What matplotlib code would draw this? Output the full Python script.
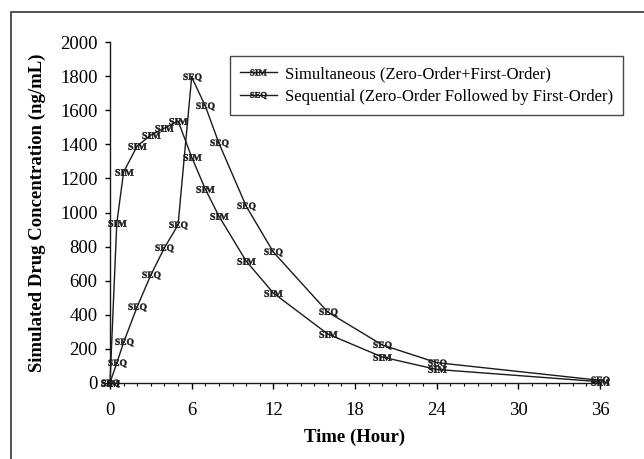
import numpy as np
import matplotlib
matplotlib.use('Agg')
import matplotlib.pyplot as plt
from matplotlib.patches import Rectangle

plt.rcParams['font.family'] = 'Liberation Serif'
plt.rcParams['mathtext.fontset'] = 'custom'
plt.rcParams['mathtext.rm'] = 'Liberation Serif'
plt.rcParams['mathtext.bf'] = 'Liberation Serif:bold'

# Simulated concentration profiles
time_sim = [0, 0.5, 1, 2, 3, 4, 5, 6, 7, 8, 10, 12, 16, 20, 24, 36]
conc_sim = [0, 938, 1238, 1391, 1455, 1496, 1538, 1326, 1138, 979, 715, 527, 286, 151, 78, 6]

time_seq = [0, 0.5, 1, 2, 3, 4, 5, 6, 7, 8, 10, 12, 16, 20, 24, 36]
conc_seq = [0, 116, 237, 447, 633, 793, 927, 1796, 1626, 1408, 1038, 768, 415, 222, 118, 14]

label_sim = 'Simultaneous (Zero-Order+First-Order)'
label_seq = 'Sequential (Zero-Order Followed by First-Order)'

x_ticks = [0, 6, 12, 18, 24, 30, 36]
y_ticks = np.arange(0, 2001, 200)

fig = plt.figure(figsize=(6.44, 4.59), dpi=100)
ax = fig.add_axes([0.1708, 0.1662, 0.7609, 0.7416])

ax.plot(time_sim, conc_sim, color='#1a1a1a', lw=1.0, marker=r'$\mathbf{SIM}$',
        markersize=13, markeredgewidth=0.3, clip_on=False, label=label_sim)
ax.plot(time_seq, conc_seq, color='#1a1a1a', lw=1.0, marker=r'$\mathbf{SEQ}$',
        markersize=13, markeredgewidth=0.3, clip_on=False, label=label_seq)

ax.set_xlim(0, 36)
ax.set_ylim(0, 2000)
ax.set_xticks(x_ticks)
ax.set_xticks(np.arange(0, 37, 1), minor=True)
ax.set_yticks(y_ticks)

ax.spines['top'].set_visible(False)
ax.spines['right'].set_visible(False)
for s in ['left', 'bottom']:
    ax.spines[s].set_linewidth(1.0)
    ax.spines[s].set_color('#1a1a1a')

ax.tick_params(axis='x', which='major', length=4, width=1, pad=10, labelsize=13.5)
ax.tick_params(axis='x', which='minor', length=2.5, width=0.8)
ax.tick_params(axis='y', which='major', length=3.5, width=1, pad=5.5, labelsize=13.5)

ax.set_xlabel('Time (Hour)', fontsize=13.5, fontweight='bold', labelpad=7)
ax.set_ylabel('Simulated Drug Concentration (ng/mL)', fontsize=13.5, fontweight='bold', labelpad=10)

leg = ax.legend(loc='upper left', bbox_to_anchor=(230 / 644, 1 - 56 / 459),
                bbox_transform=fig.transFigure, fontsize=12, frameon=True,
                fancybox=False, edgecolor='#1a1a1a', borderaxespad=0,
                handlelength=2.2, handletextpad=0.5, borderpad=0.6,
                labelspacing=0.4, numpoints=1, markerscale=0.9)
leg.get_frame().set_linewidth(1.0)

# outer border of the figure (only left and top visible in the crop)
fig.patches.append(Rectangle((11 / 644, -0.2), 1.2, 1.2 - 12 / 459,
                             transform=fig.transFigure, fill=False,
                             edgecolor='#333333', lw=1.2))

fig.savefig('out.png', dpi=100)
